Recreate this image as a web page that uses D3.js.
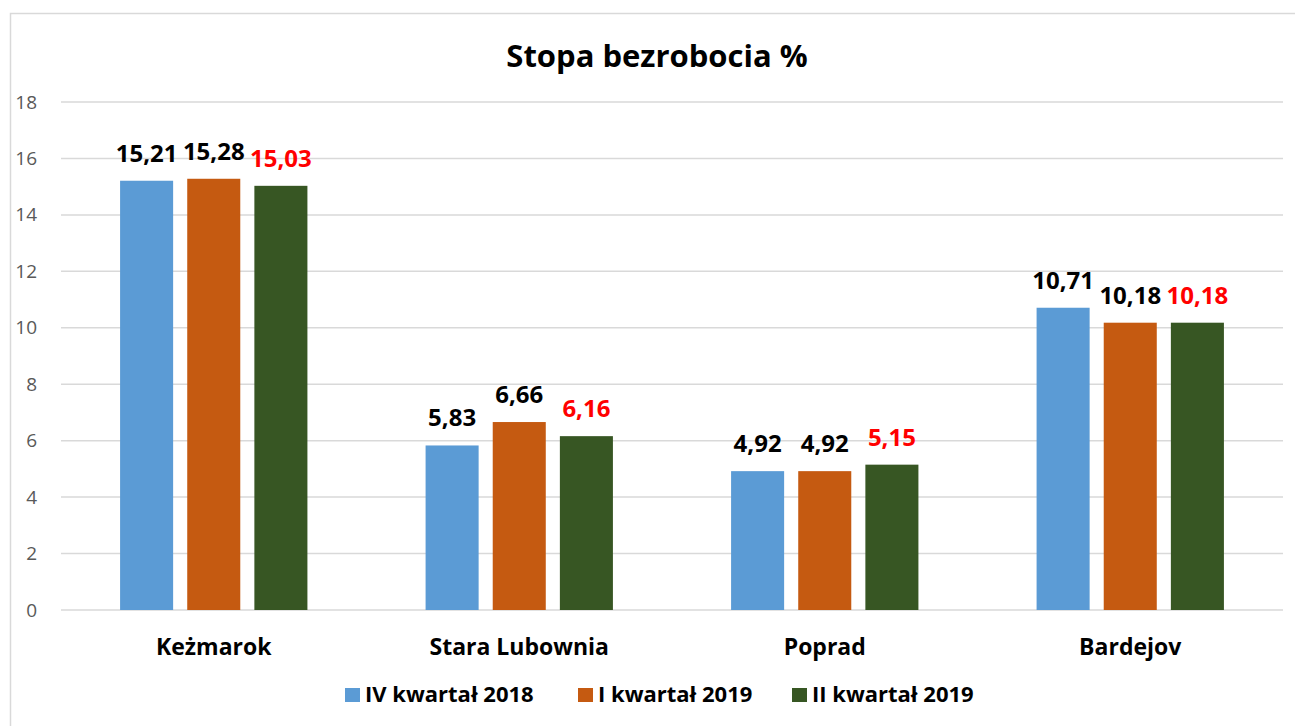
<!DOCTYPE html>
<html lang="pl">
<head>
    <meta charset="UTF-8">
    <title>Stopa bezrobocia %</title>
    <style>
        body, html {
            margin: 0;
            padding: 0;
            background-color: #fff;
            font-family: "Open Sans", "Noto Sans", Arial, sans-serif;
        }
    </style>
</head>
<body>
    <svg id="svg" width="1295" height="726"></svg>
    <script src="https://d3js.org/d3.v7.min.js"></script>
    <script>
        const categories = ['Keżmarok', 'Stara Lubownia', 'Poprad', 'Bardejov']
        const seriesNames = ['IV kwartał 2018', 'I kwartał 2019', 'II kwartał 2019']
        const q4_2018 = [15.21, 5.83, 4.92, 10.71]
        const q1_2019 = [15.28, 6.66, 4.92, 10.18]
        const q2_2019 = [15.03, 6.16, 5.15, 10.18]
        const yTicks = [0, 2, 4, 6, 8, 10, 12, 14, 16, 18]

        const seriesValues = [q4_2018, q1_2019, q2_2019]
        const colors = ['#5b9bd5', '#c55a11', '#375623']
        const labelColors = ['#000', '#000', '#ff0000']

        const margin = { top: 102, right: 12, bottom: 116, left: 61 }
        const W = 1295, H = 726
        const svg = d3.select('#svg')

        // outer frame (only left and top edges visible)
        svg.append('rect')
            .attr('x', 10.5).attr('y', 13.5)
            .attr('width', 1300).attr('height', 730)
            .attr('fill', 'none')
            .attr('stroke', '#d9d9d9')
            .attr('stroke-width', 1.5)

        const x0 = d3.scaleBand()
            .domain(categories)
            .range([margin.left, W - margin.right])

        const x1 = d3.scaleBand()
            .domain(seriesNames)
            .range([0, x0.bandwidth()])
            .paddingInner(0.21)
            .paddingOuter(0.88)

        const y = d3.scaleLinear()
            .domain([0, 18])
            .range([H - margin.bottom, margin.top])

        // gridlines
        svg.append('g')
            .selectAll('line')
            .data(yTicks)
            .join('line')
            .attr('x1', margin.left)
            .attr('x2', W - margin.right)
            .attr('y1', d => y(d))
            .attr('y2', d => y(d))
            .attr('stroke', '#d9d9d9')
            .attr('stroke-width', 1.5)

        // y axis labels
        const leftAxis = d3.axisLeft(y).tickValues(yTicks).tickSize(0).tickPadding(0)
        svg.append('g')
            .attr('transform', `translate(${37}, 0)`)
            .call(leftAxis)
            .call(g => g.select('.domain').remove())
            .selectAll('text')
            .attr('font-family', '"Open Sans", sans-serif')
            .attr('font-size', '19px')
            .attr('fill', '#595959')

        // bars
        const groups = svg.append('g')
            .selectAll('g')
            .data(categories)
            .join('g')
            .attr('transform', d => `translate(${x0(d)}, 0)`)

        const cells = (c, ci) => seriesNames.map((s, si) => ({ s, si, v: seriesValues[si][ci] }))

        groups.selectAll('rect')
            .data(cells)
            .join('rect')
            .attr('x', d => x1(d.s))
            .attr('y', d => y(d.v))
            .attr('width', x1.bandwidth())
            .attr('height', d => y(0) - y(d.v))
            .attr('fill', d => colors[d.si])

        // value labels
        groups.selectAll('text')
            .data(cells)
            .join('text')
            .attr('x', d => x1(d.s) + x1.bandwidth() / 2)
            .attr('y', d => y(d.v) - 19)
            .attr('text-anchor', 'middle')
            .attr('font-size', '24px')
            .attr('font-weight', 'bold')
            .attr('fill', d => labelColors[d.si])
            .text(d => d.v.toFixed(2).replace('.', ','))

        // category labels
        const bottomAxis = d3.axisBottom(x0).tickSize(0).tickPadding(0)
        svg.append('g')
            .attr('transform', `translate(0, ${y(0) + 29})`)
            .call(bottomAxis)
            .call(g => g.select('.domain').remove())
            .selectAll('text')
            .attr('font-family', '"Open Sans", sans-serif')
            .attr('font-size', '23px')
            .attr('font-weight', 'bold')
            .attr('fill', '#000')

        // title
        svg.append('text')
            .attr('x', 657)
            .attr('y', 67)
            .attr('text-anchor', 'middle')
            .attr('font-size', '31px')
            .attr('font-weight', 'bold')
            .attr('fill', '#000')
            .text('Stopa bezrobocia %')

        // legend
        const legendX = [345, 578, 792]
        const legend = svg.append('g')
            .selectAll('g')
            .data(seriesNames)
            .join('g')
            .attr('transform', (d, i) => `translate(${legendX[i]}, 688)`)
        legend.append('rect')
            .attr('width', 15).attr('height', 14)
            .attr('fill', (d, i) => colors[i])
        legend.append('text')
            .attr('x', 20)
            .attr('y', 14)
            .attr('font-size', '22px')
            .attr('font-weight', 'bold')
            .attr('fill', '#000')
            .text(d => d)
    </script>
</body>
</html>
